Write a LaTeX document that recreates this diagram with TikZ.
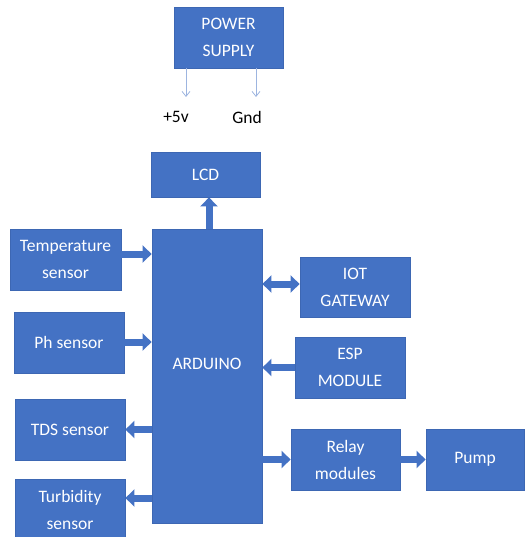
\documentclass[tikz,border=0pt]{standalone}
\usepackage{fontspec}
\setmainfont{Carlito}
\usetikzlibrary{arrows.meta}
\definecolor{boxblue}{HTML}{4472C4}
\definecolor{edgeblue}{HTML}{3D67B3}
\definecolor{thinblue}{HTML}{9DB5E0}
\tikzset{
  block/.style={rectangle, fill=boxblue, draw=edgeblue, line width=0.8pt, text=white,
    align=center, inner sep=2pt, font=\fontsize{17.5}{27}\selectfont},
  bigarrow/.style={draw=boxblue, line width=7pt, -{Triangle[width=17pt,length=9pt]}},
  bothway/.style={draw=boxblue, line width=7pt, {Triangle[width=17pt,length=9pt]}-{Triangle[width=17pt,length=9pt]}},
  thinarrow/.style={draw=thinblue, line width=0.8pt, -{Straight Barb[length=5pt,width=8pt]}},
  plain/.style={font=\fontsize{17.5}{21}\selectfont}
}
\begin{document}
\begin{tikzpicture}[x=1pt, y=-1pt]
\useasboundingbox (0,0) rectangle (525,537);
% power supply and its two lines
\node[block, minimum width=109pt, minimum height=61pt] (power) at (228.5,37.5) {POWER\\SUPPLY};
\node[plain] (p5v) at (176,117) {+5v};
\node[plain] (gnd) at (247,117) {Gnd};
\coordinate (c5v) at (186,97);
\coordinate (cgnd) at (256,97);
\draw[thinarrow] (power.south -| c5v) -- (c5v);
\draw[thinarrow] (power.south -| cgnd) -- (cgnd);
% controller and display
\node[block, minimum width=110pt, minimum height=294pt,
  label={[text=white, font=\fontsize{17.5}{21}\selectfont, yshift=12pt]center:ARDUINO}] (arduino) at (207,376) {};
\node[block, minimum width=109pt, minimum height=45pt] (lcd) at (205.5,174.5) {LCD};
% sensors on the left
\node[block, minimum width=111pt, minimum height=61pt] (temp) at (65.5,259.5) {Temperature\\sensor};
\node[block, minimum width=110pt, minimum height=61pt] (ph) at (69,342.5) {Ph sensor};
\node[block, minimum width=110pt, minimum height=61pt] (tds) at (70,429.5) {TDS sensor};
\node[block, minimum width=110pt, minimum height=61pt] (turb) at (70,509.5) {Turbidity\\sensor};
% modules on the right
\node[block, minimum width=110pt, minimum height=60pt] (iot) at (355,287) {IOT\\GATEWAY};
\node[block, minimum width=110pt, minimum height=61pt] (esp) at (350,367.5) {ESP\\MODULE};
\node[block, minimum width=109pt, minimum height=61pt] (relay) at (345.5,459.5) {Relay\\modules};
\node[block, minimum width=98pt, minimum height=61pt] (pump) at (475,459.5) {Pump};
% block arrows
\draw[bigarrow] (arduino.north -| 209,0) -- (lcd.south -| 209,0);
\draw[bigarrow] (temp.east |- 0,254) -- (arduino.west |- 0,254);
\draw[bigarrow] (ph.east |- 0,342) -- (arduino.west |- 0,342);
\draw[bigarrow] (arduino.west |- tds.east) -- (tds.east);
\draw[bigarrow] (arduino.west |- 0,498) -- (turb.east |- 0,498);
\draw[bothway] (arduino.east |- 0,284) -- (iot.west |- 0,284);
\draw[bigarrow] (esp.west) -- (arduino.east |- esp.west);
\draw[bigarrow] (arduino.east |- relay.west) -- (relay.west);
\draw[bigarrow] (relay.east) -- (pump.west);
\end{tikzpicture}
\end{document}
